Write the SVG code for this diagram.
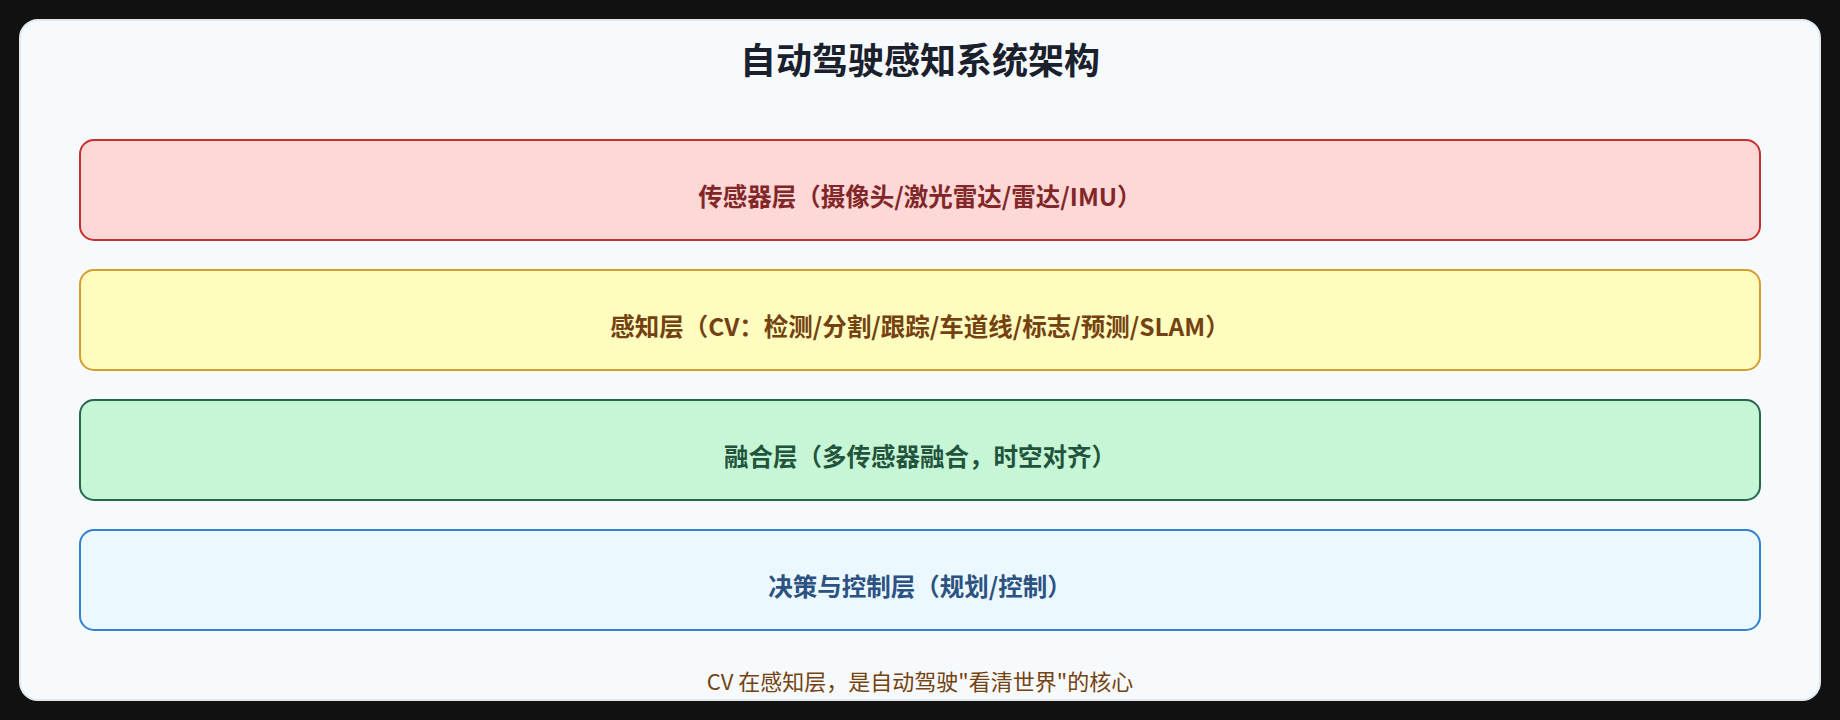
<svg xmlns="http://www.w3.org/2000/svg" width="1840" height="720" viewBox="0 0 1840 720">
  <style>
    .bg { fill: #111111; }
    .card { fill: #f7fafc; stroke: #e2e8f0; stroke-width: 2; }
    .title { font-family: "Noto Sans CJK SC", "Noto Sans", sans-serif; font-size: 36px; font-weight: 700; fill: #1a202c; text-anchor: middle; }
    .layer rect { stroke-width: 2; }
    .layer text { font-family: "Noto Sans CJK SC", "Noto Sans", sans-serif; font-size: 24.5px; font-weight: 700; text-anchor: middle; }
    .l1 rect { fill: #fed7d7; stroke: #c53030; }
    .l1 text { fill: #822727; }
    .l2 rect { fill: #fefcbf; stroke: #d69e2e; }
    .l2 text { fill: #744210; }
    .l3 rect { fill: #c6f6d5; stroke: #276749; }
    .l3 text { fill: #22543d; }
    .l4 rect { fill: #ebf8ff; stroke: #3182ce; }
    .l4 text { fill: #2c5282; }
    .footer { font-family: "Noto Sans CJK SC", "Noto Sans", sans-serif; font-size: 22px; font-weight: 400; fill: #744210; text-anchor: middle; }
  </style>
  <rect class="bg" x="0" y="0" width="1840" height="720"/>
  <rect class="card" x="20" y="20" width="1800" height="680" rx="18" ry="18"/>
  <text class="title" x="920" y="74">自动驾驶感知系统架构</text>

  <g id="sensor-layer" class="layer l1">
    <rect x="80" y="140" width="1680" height="100" rx="14" ry="14"/>
    <text x="920" y="206">传感器层（摄像头/激光雷达/雷达/IMU）</text>
  </g>
  <g id="perception-layer" class="layer l2">
    <rect x="80" y="270" width="1680" height="100" rx="14" ry="14"/>
    <text x="920" y="336">感知层（CV：检测/分割/跟踪/车道线/标志/预测/SLAM）</text>
  </g>
  <g id="fusion-layer" class="layer l3">
    <rect x="80" y="400" width="1680" height="100" rx="14" ry="14"/>
    <text x="920" y="466">融合层（多传感器融合，时空对齐）</text>
  </g>
  <g id="decision-layer" class="layer l4">
    <rect x="80" y="530" width="1680" height="100" rx="14" ry="14"/>
    <text x="920" y="596">决策与控制层（规划/控制）</text>
  </g>
  <g id="connectors"></g>

  <text class="footer" x="920" y="690">CV 在感知层，是自动驾驶"看清世界"的核心</text>
</svg>
